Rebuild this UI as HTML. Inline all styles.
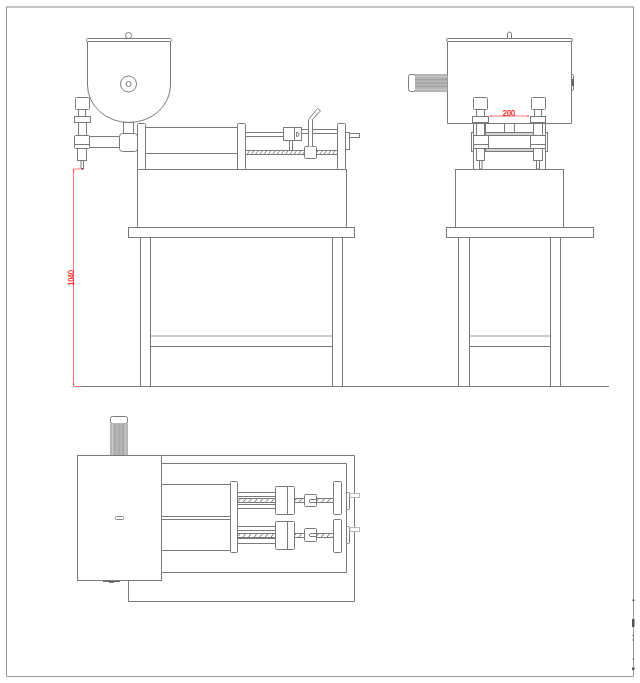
<!DOCTYPE html>
<html><head><meta charset="utf-8"><style>
html,body{margin:0;padding:0;background:#fff;width:640px;height:683px;overflow:hidden}
svg{display:block}
</style></head><body>
<svg width="640" height="683" viewBox="0 0 640 683">
<defs>
<pattern id="h" patternUnits="userSpaceOnUse" width="4.35" height="6" patternTransform="rotate(39)">
<line x1="0" y1="0" x2="0" y2="6" stroke="#4a4a4a" stroke-width="1.25"/>
</pattern>
<pattern id="h2" patternUnits="userSpaceOnUse" width="3.5" height="6" patternTransform="rotate(35)">
<line x1="0" y1="0" x2="0" y2="6" stroke="#4a4a4a" stroke-width="1.15"/>
</pattern>
</defs>
<rect width="640" height="683" fill="#fff"/>
<g fill="none" stroke="#7a7a7a" stroke-width="1">
<!-- border -->
<path d="M6.5,7 V676.5 H633.5 V7" stroke="#9a9a9a"/>
<line x1="6" y1="7" x2="634" y2="7" stroke="#888"/>

<!-- ============ FRONT VIEW ============ -->
<!-- hopper -->
<rect x="86.5" y="38.5" width="85" height="3" rx="1"/>
<circle cx="128.5" cy="35.5" r="3"/>
<path d="M87.5,41.5 V85 A41.5,37.5 0 0 0 170.5,85 V41.5"/>
<circle cx="128.5" cy="84" r="8"/>
<circle cx="128.5" cy="84" r="2.5"/>
<!-- valve column -->
<rect x="75.5" y="97.5" width="14" height="12" rx="1"/>
<rect x="78.5" y="109.5" width="7" height="7"/>
<rect x="74.5" y="116.5" width="16" height="6"/>
<rect x="78.5" y="122.5" width="8" height="13"/>
<rect x="74.5" y="135.5" width="15" height="13" rx="1"/>
<line x1="74.5" y1="144.5" x2="89.5" y2="144.5"/>
<rect x="77.5" y="148.5" width="9" height="12"/>
<path d="M81,160.5 V168.5 H83.5 V160.5"/>
<rect x="81.5" y="168" width="2" height="1.5" fill="#444" stroke="none"/>
<!-- pipe + elbow -->
<line x1="89.5" y1="136.5" x2="119.5" y2="136.5"/>
<line x1="89.5" y1="147.5" x2="119.5" y2="147.5"/>
<rect x="119.5" y="133.5" width="18" height="18" rx="3"/>
<rect x="123.5" y="122.5" width="10" height="11"/>
<!-- cylinder -->
<rect x="137.5" y="123.5" width="8" height="46" rx="1"/>
<rect x="145.5" y="127.5" width="92" height="42"/>
<line x1="145.5" y1="153.5" x2="237.5" y2="153.5"/>
<rect x="237.5" y="123.5" width="8" height="46" rx="1"/>
<rect x="245.5" y="132.5" width="38" height="4"/>
<rect x="283.5" y="127.5" width="11" height="13"/>
<rect x="294.5" y="127.5" width="7" height="13"/>
<path d="M296.5,132.5 H297 A2,2 0 0 1 297,136.5 H296.5 Z"/>
<rect x="301.5" y="129.5" width="36" height="4"/>
<rect x="289.5" y="140.5" width="3" height="10"/>
<rect x="245.5" y="150.5" width="92" height="4" fill="url(#h2)"/>
<rect x="304.5" y="146.5" width="12" height="12" rx="1" fill="#fff"/>
<path d="M308.5,146.5 V119.5 L317.5,108.5 L320.5,110.8 L312.5,119.5 V146.5" fill="#fff"/>
<rect x="337.5" y="123.5" width="8" height="46" rx="1"/>
<rect x="345.5" y="132.5" width="4" height="17"/>
<rect x="349.5" y="133.5" width="10" height="4"/>
<!-- base box -->
<rect x="137.5" y="169.5" width="209" height="58"/>
<rect x="128.5" y="227.5" width="226" height="10"/>
<line x1="140.5" y1="237.5" x2="140.5" y2="386.5"/>
<line x1="150.5" y1="237.5" x2="150.5" y2="386.5"/>
<line x1="332.5" y1="237.5" x2="332.5" y2="386.5"/>
<line x1="342.5" y1="237.5" x2="342.5" y2="386.5"/>
<line x1="150.5" y1="336" x2="332.5" y2="336" stroke="#999" stroke-width="1"/>
<line x1="150.5" y1="346.5" x2="332.5" y2="346.5" stroke="#777"/>
<line x1="81" y1="386.5" x2="609" y2="386.5"/>

<!-- ============ SIDE VIEW ============ -->
<rect x="446.5" y="38.5" width="126" height="3" rx="1.5"/>
<path d="M507.5,38.5 V34 A2,2 0 0 1 511.5,34 V38.5"/>
<path d="M447.5,41.5 V123.5 H571.5 V41.5"/>
<rect x="571.5" y="74.5" width="2" height="16" rx="1"/>
<rect x="572" y="79" width="2" height="7" fill="#666" stroke="none"/>
<rect x="408.5" y="74.5" width="7" height="17" rx="2"/>
<rect x="415" y="74" width="32.5" height="18" fill="#b5b5b5" stroke="none"/>
<g stroke="#a0a0a0">
<line x1="415" y1="79.5" x2="447" y2="79.5"/>
<line x1="415" y1="83" x2="447" y2="83"/>
<line x1="415" y1="86.5" x2="447" y2="86.5"/>
</g>
<g stroke="#c8c8c8">
<line x1="415" y1="76.5" x2="447" y2="76.5"/>
<line x1="415" y1="89.5" x2="447" y2="89.5"/>
</g>
<!-- side valves left -->
<rect x="473.5" y="97.5" width="14" height="12" rx="1"/>
<rect x="476.5" y="109.5" width="8" height="7"/>
<rect x="472.5" y="116.5" width="16" height="6"/>
<rect x="476.5" y="122.5" width="8" height="13"/>
<rect x="473.5" y="135.5" width="15" height="13"/>
<line x1="473.5" y1="144.5" x2="488.5" y2="144.5"/>
<rect x="476.5" y="148.5" width="8" height="12"/>
<rect x="479.5" y="160.5" width="2.5" height="8.5"/>
<line x1="473.5" y1="122.5" x2="473.5" y2="169.5"/>
<line x1="476.5" y1="122.5" x2="476.5" y2="135.5"/>
<rect x="471.5" y="132.5" width="2" height="19"/>
<!-- side valves right -->
<rect x="531.5" y="97.5" width="14" height="12" rx="1"/>
<rect x="534.5" y="109.5" width="7" height="7"/>
<rect x="530.5" y="116.5" width="15" height="6"/>
<rect x="533.5" y="122.5" width="9" height="13"/>
<rect x="530.5" y="135.5" width="15" height="13"/>
<line x1="530.5" y1="144.5" x2="545.5" y2="144.5"/>
<rect x="533.5" y="148.5" width="9" height="12"/>
<rect x="536.5" y="160.5" width="3" height="8.5"/>
<line x1="545.5" y1="122.5" x2="545.5" y2="169.5"/>
<line x1="542.5" y1="122.5" x2="542.5" y2="135.5"/>
<rect x="545.5" y="132.5" width="2" height="19"/>
<!-- frame -->
<rect x="485.5" y="123.5" width="48" height="9"/>
<line x1="504.5" y1="123.5" x2="504.5" y2="132.5"/>
<line x1="514.5" y1="123.5" x2="514.5" y2="132.5"/>
<rect x="485.5" y="132.5" width="48" height="3" fill="#d4d4d4"/>
<rect x="485.5" y="148.5" width="48" height="3" fill="#d4d4d4"/>
<!-- base -->
<rect x="455.5" y="169.5" width="108" height="58"/>
<rect x="446.5" y="227.5" width="147" height="10"/>
<line x1="458.5" y1="237.5" x2="458.5" y2="386.5"/>
<line x1="469.5" y1="237.5" x2="469.5" y2="386.5"/>
<line x1="550.5" y1="237.5" x2="550.5" y2="386.5"/>
<line x1="560.5" y1="237.5" x2="560.5" y2="386.5"/>
<line x1="469.5" y1="336" x2="550.5" y2="336" stroke="#999" stroke-width="1"/>
<line x1="469.5" y1="346.5" x2="550.5" y2="346.5" stroke="#777"/>

<!-- ============ PLAN VIEW ============ -->
<rect x="110.5" y="416.5" width="17" height="7" rx="2"/>
<rect x="110" y="423" width="18" height="32.5" rx="1" fill="#b5b5b5" stroke="none"/>
<g stroke="#a0a0a0">
<line x1="115" y1="424" x2="115" y2="455"/>
<line x1="119" y1="424" x2="119" y2="455"/>
<line x1="123" y1="424" x2="123" y2="455"/>
</g>
<g stroke="#c8c8c8">
<line x1="112.5" y1="424" x2="112.5" y2="455"/>
<line x1="125.5" y1="424" x2="125.5" y2="455"/>
</g>
<rect x="77.5" y="455.5" width="84" height="125"/>
<rect x="115.5" y="516.5" width="8" height="3" rx="1" stroke="#888"/>
<line x1="103" y1="581.5" x2="120" y2="581.5" stroke="#666"/>
<rect x="109" y="581.5" width="5" height="1.3" fill="#666" stroke="none"/>
<path d="M161.5,455.5 H354.5 V601.5 H128.5 V580.5"/>
<path d="M161.5,463.5 H346.5 V572.5 H161.5"/>
<line x1="161.5" y1="484.5" x2="230.5" y2="484.5"/>
<line x1="161.5" y1="516.5" x2="230.5" y2="516.5"/>
<line x1="161.5" y1="519.5" x2="230.5" y2="519.5"/>
<line x1="161.5" y1="550.5" x2="230.5" y2="550.5"/>
<rect x="230.5" y="481.5" width="7" height="71" rx="1"/>
<!-- upper screw -->
<line x1="237.5" y1="492.5" x2="275.5" y2="492.5"/>
<line x1="237.5" y1="496.5" x2="275.5" y2="496.5"/>
<rect x="237.5" y="498.5" width="38" height="4" fill="url(#h)"/>
<line x1="237.5" y1="504.5" x2="275.5" y2="504.5"/>
<line x1="237.5" y1="508.5" x2="275.5" y2="508.5"/>
<rect x="275.5" y="486.5" width="19" height="28" rx="1"/>
<line x1="287.5" y1="486.5" x2="287.5" y2="514.5"/>
<rect x="294.5" y="498.5" width="39" height="4" fill="url(#h)"/>
<rect x="304.5" y="494.5" width="12" height="12" rx="1" fill="#fff"/>
<path d="M316.5,499.5 H310 Q308.5,501 310,502.5 H316.5"/>
<rect x="333.5" y="481.5" width="8" height="33" rx="1"/>
<rect x="346.5" y="492.5" width="3" height="17" rx="1"/>
<rect x="350" y="493.5" width="9.5" height="4" fill="#fff" stroke="#bbb"/>
<!-- lower screw -->
<line x1="237.5" y1="526.5" x2="275.5" y2="526.5"/>
<line x1="237.5" y1="530.5" x2="275.5" y2="530.5"/>
<rect x="237.5" y="533.5" width="38" height="4" fill="url(#h)"/>
<line x1="237.5" y1="538.5" x2="275.5" y2="538.5"/>
<line x1="237.5" y1="543.5" x2="275.5" y2="543.5"/>
<rect x="275.5" y="521.5" width="19" height="28" rx="1"/>
<line x1="287.5" y1="521.5" x2="287.5" y2="549.5"/>
<rect x="294.5" y="533.5" width="39" height="4" fill="url(#h)"/>
<rect x="304.5" y="528.5" width="12" height="13" rx="1" fill="#fff"/>
<path d="M316.5,533.5 H310 Q308.5,535 310,536.5 H316.5"/>
<rect x="333.5" y="519.5" width="8" height="33" rx="1"/>
<rect x="346.5" y="526.5" width="3" height="17" rx="1"/>
<rect x="350" y="527.5" width="9.5" height="4" fill="#fff" stroke="#bbb"/>
</g>
<g fill="#555">
<rect x="632.5" y="599.5" width="2" height="1.5"/>
<rect x="632" y="619" width="2.5" height="8"/>
<rect x="632.5" y="635" width="1.5" height="1"/>
<rect x="632.5" y="639.5" width="1.5" height="1"/>
<rect x="632.5" y="658.5" width="1.5" height="1"/>
<rect x="632" y="667.5" width="2.5" height="2.5"/>
</g>
<!-- red dimensions -->
<g stroke="#ff7878" stroke-width="1" fill="none">
<path d="M82,169 H73.5 V386.5 H81"/>
<line x1="489.5" y1="116" x2="529" y2="116"/>
</g>
<g fill="#ff3030">
<circle cx="73.5" cy="171" r="0.8"/><circle cx="73.5" cy="384" r="0.8"/><circle cx="491" cy="116" r="0.7"/><circle cx="528" cy="116" r="0.7"/>
</g>
<text transform="translate(73.6,277.9) rotate(-90) scale(0.85,1)" text-anchor="middle" font-family="Liberation Sans, sans-serif" font-size="8.4" fill="#ff1010" stroke="#ff1010" stroke-width="0.2">1040</text>
<text transform="translate(509,115.8) scale(0.9,1)" text-anchor="middle" font-family="Liberation Sans, sans-serif" font-size="8.2" fill="#ff1010" stroke="#ff1010" stroke-width="0.25">200</text>
</svg>
</body></html>
